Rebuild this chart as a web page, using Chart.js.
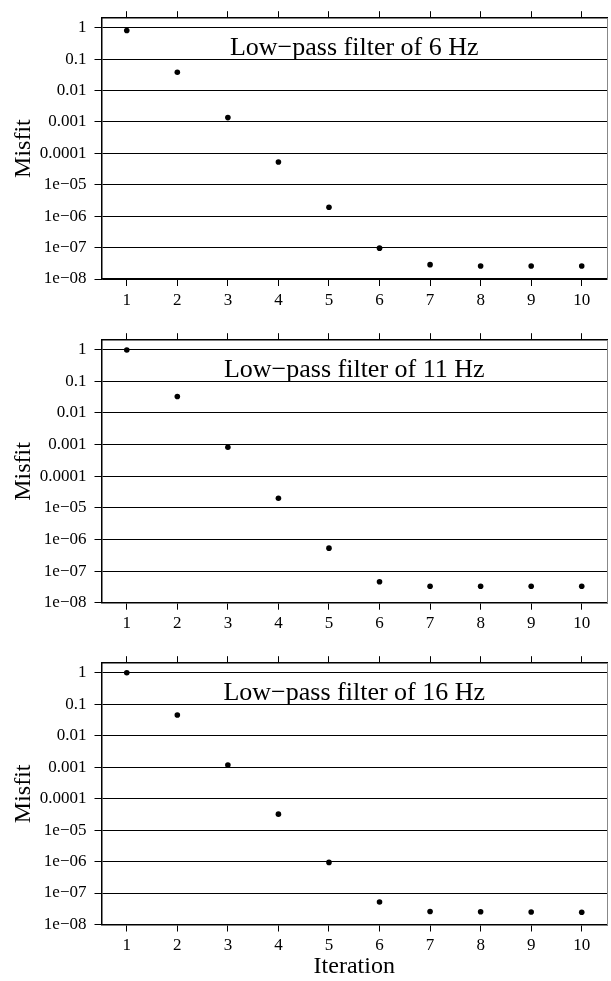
<!DOCTYPE html>
<html>
<head>
<meta charset="utf-8">
<title>Misfit per iteration</title>
<script src="https://cdn.jsdelivr.net/npm/chart.js@4.4.1/dist/chart.umd.min.js"></script>
<style>
    body { margin: 0; background: #fff; width: 611px; height: 981px; overflow: hidden; position: relative; }
    canvas { position: absolute; left: 0; }
</style>
</head>
<body>
<canvas id="panel0" width="611" height="322" style="top:0px"></canvas>
<canvas id="panel1" width="611" height="323" style="top:322px"></canvas>
<canvas id="panel2" width="611" height="336" style="top:645px"></canvas>
<script>
// Data
const iterations = [1, 2, 3, 4, 5, 6, 7, 8, 9, 10];
const filterHz = [6, 11, 16];
const misfit6Hz = [0.81, 0.038, 1.37e-3, 5.3e-5, 1.93e-6, 9.6e-8, 2.86e-8, 2.6e-8, 2.6e-8, 2.6e-8];
const misfit11Hz = [0.98, 0.033, 8.2e-4, 2.0e-5, 5.3e-7, 4.6e-8, 3.3e-8, 3.3e-8, 3.3e-8, 3.3e-8];
const misfit16Hz = [1.0, 0.045, 1.16e-3, 3.2e-5, 9.4e-7, 5.2e-8, 2.6e-8, 2.55e-8, 2.5e-8, 2.45e-8];
const yTickValues = [1, 0.1, 0.01, 0.001, 0.0001, 1e-5, 1e-6, 1e-7, 1e-8];
const yTickLabels = ["1", "0.1", "0.01", "0.001", "0.0001", "1e\u221205", "1e\u221206", "1e\u221207", "1e\u221208"];

const SERIF = "'Liberation Serif', 'DejaVu Serif', serif";
Chart.defaults.font.family = SERIF;
Chart.defaults.color = "#000";

// draws the "Low-pass filter of N Hz" label inside the plot area
const panelTitle = {
    id: "panelTitle",
    afterDatasetsDraw(chart, args, opts) {
        const ctx = chart.ctx;
        const area = chart.chartArea;
        const y = chart.scales.y;
        ctx.save();
        ctx.font = "26px " + SERIF;
        ctx.fillStyle = "#000";
        ctx.textAlign = "center";
        ctx.textBaseline = "alphabetic";
        ctx.fillText(opts.text, (area.left + area.right) / 2, y.getPixelForValue(0.1) - 4);
        ctx.restore();
    },
};

function renderPanel(canvasId, hz, values, bottomHeight, showXTitle) {
    const ctx = document.getElementById(canvasId).getContext("2d");
    const points = iterations.map((it, i) => ({ x: it, y: values[i] }));
    const setXTicks = (scale) => {
        scale.ticks = iterations.map((v) => ({ value: v }));
    };

    new Chart(ctx, {
        type: "scatter",
        data: {
            datasets: [
                {
                    data: points,
                    backgroundColor: "#000",
                    borderWidth: 0,
                    pointRadius: 2.8,
                    showLine: false,
                },
            ],
        },
        plugins: [panelTitle],
        options: {
            responsive: false,
            animation: false,
            devicePixelRatio: 1,
            layout: { padding: { top: 5, left: 0, right: 1, bottom: 0 } },
            scales: {
                x: {
                    type: "linear",
                    position: "bottom",
                    min: 0.5,
                    max: 10.5,
                    afterBuildTicks: setXTicks,
                    afterFit: (scale) => { scale.height = bottomHeight; },
                    grid: { drawOnChartArea: false, tickLength: 7, color: "#000", lineWidth: 1 },
                    border: { display: true, color: "#000", width: 1.5 },
                    ticks: {
                        font: { size: 17 },
                        padding: 4,
                        autoSkip: false,
                        maxRotation: 0,
                        callback: (v) => String(v),
                    },
                    title: {
                        display: showXTitle,
                        text: "Iteration",
                        font: { size: 24 },
                        padding: { top: 0, bottom: 0 },
                    },
                },
                x2: {
                    type: "linear",
                    position: "top",
                    min: 0.5,
                    max: 10.5,
                    afterBuildTicks: setXTicks,
                    grid: { drawOnChartArea: false, tickLength: 7, color: "#000", lineWidth: 1 },
                    border: { display: true, color: "#000", width: 1.5 },
                    ticks: { display: false },
                },
                y: {
                    type: "logarithmic",
                    min: 1e-8,
                    max: 2,
                    afterBuildTicks: (scale) => {
                        scale.ticks = yTickValues.map((v) => ({ value: v }));
                    },
                    afterFit: (scale) => { scale.width = 101.5; },
                    grid: { color: "#000", lineWidth: 1, tickLength: 7 },
                    border: { display: true, color: "#000", width: 1.5 },
                    ticks: {
                        font: { size: 17 },
                        padding: 8,
                        autoSkip: false,
                        callback: (v) => yTickLabels[yTickValues.indexOf(v)],
                    },
                    title: {
                        display: true,
                        text: "Misfit",
                        font: { size: 24 },
                        padding: { top: 9, bottom: 0 },
                    },
                },
                y2: {
                    type: "linear",
                    position: "right",
                    grid: { drawOnChartArea: false, drawTicks: false },
                    border: { display: true, color: "#888", width: 1 },
                    ticks: { display: false },
                },
            },
            plugins: {
                legend: { display: false },
                tooltip: { enabled: false },
                panelTitle: { text: "Low\u2212pass filter of " + hz + " Hz" },
            },
        },
    });
}

renderPanel("panel0", filterHz[0], misfit6Hz, 43, false);
renderPanel("panel1", filterHz[1], misfit11Hz, 42.3, false);
renderPanel("panel2", filterHz[2], misfit16Hz, 56.5, true);
</script>
</body>
</html>
